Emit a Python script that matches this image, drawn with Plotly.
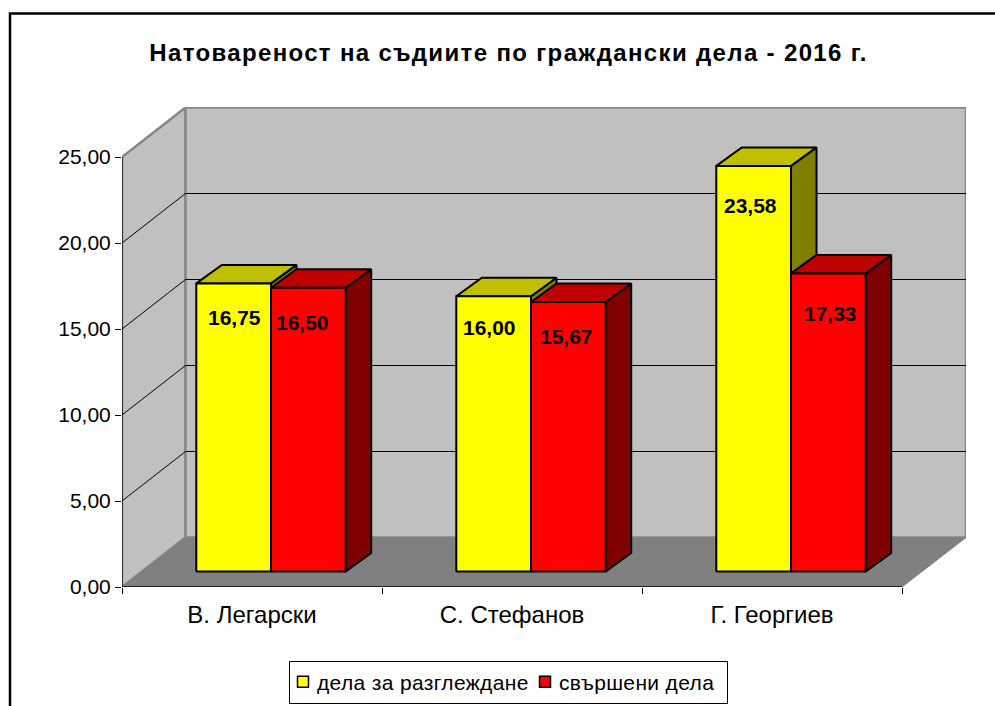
import plotly.graph_objects as go

TITLE = "Натовареност на съдиите по граждански дела - 2016 г."
CATEGORIES = ["В. Легарски", "С. Стефанов", "Г. Георгиев"]
SERIES_NAMES = ["дела за разглеждане", "свършени дела"]
SERIES_A = [16.75, 16.00, 23.58]
SERIES_B = [16.50, 15.67, 17.33]
Y_TICKS = [0, 5, 10, 15, 20, 25]
Y_LABELS = ["0,00", "5,00", "10,00", "15,00", "20,00", "25,00"]
LABELS_A = ["16,75", "16,00", "23,58"]
LABELS_B = ["16,50", "15,67", "17,33"]

# ---- styling / projection constants (not data) ----
W, H = 995, 706
L, R, T, B = 122, 966, 107, 587
FONT = "Liberation Sans"
FRONT_COL = ["#FFFF00", "#FF0000"]
TOP_COL = ["#C0C000", "#C00000"]
SIDE_COL = ["#808000", "#800000"]
WALL = "#C0C0C0"
FLOOR = "#808080"
EDGE = "#868686"
X_PX = 260.0          # px per category
Y_PX = 17.2           # px per value unit
WALL_DX, WALL_DY = 63.5 / X_PX, 49.5 / Y_PX
BAR_W = 74.7 / X_PX
BAR_SHIFT = 19.0 / X_PX
BAR_BASE = 15.5 / Y_PX
DEPTH_DX, DEPTH_DY = 25.5 / X_PX, 18.5 / Y_PX
X_MAX = (R - L) / X_PX
Y_MAX = (B - T) / Y_PX
LABEL_DX = [[1, -4, -3], [-6, -1.5, 2.5]]
LABEL_DY = [[34, 31, 40], [35, 35, 40]]


def px(x):
    return (x - L) / (R - L)


def py(y):
    return (B - y) / (B - T)


fig = go.Figure()


def poly(xs, ys, fill, line_color, line_w):
    fig.add_trace(go.Scatter(
        x=xs + xs[:1], y=ys + ys[:1], mode="lines", fill="toself", fillcolor=fill,
        line=dict(color=line_color, width=line_w), hoverinfo="skip", showlegend=False,
        cliponaxis=False))


def path(xs, ys, color, width):
    fig.add_trace(go.Scatter(x=xs, y=ys, mode="lines", line=dict(color=color, width=width),
                             hoverinfo="skip", showlegend=False, cliponaxis=False))


n = len(CATEGORIES)
# walls and floor
poly([0, WALL_DX, WALL_DX, 0], [0, WALL_DY, 25 + WALL_DY, 25], WALL, EDGE, 2.5)
poly([WALL_DX, X_MAX, X_MAX, WALL_DX], [WALL_DY, WALL_DY, 25 + WALL_DY, 25 + WALL_DY], WALL, EDGE, 2.5)
poly([0, n, X_MAX, WALL_DX], [0, 0, WALL_DY, WALL_DY], FLOOR, FLOOR, 1)
for v in Y_TICKS[1:-1]:
    path([0, WALL_DX, X_MAX], [v, v + WALL_DY, v + WALL_DY], "#000000", 1)
path([0, 0], [0, 25], "#000000", 1.3)
path([0, n], [0, 0], "#000000", 1.3)

# bars: back to front, left to right
annots = []
for i in range(n):
    for s, vals in enumerate([SERIES_A, SERIES_B]):
        v = vals[i]
        x0 = i + 0.5 + BAR_SHIFT - BAR_W + s * BAR_W
        x1 = x0 + BAR_W
        y0 = BAR_BASE
        y1 = BAR_BASE + v
        poly([x1, x1 + DEPTH_DX, x1 + DEPTH_DX, x1],
             [y0, y0 + DEPTH_DY, y1 + DEPTH_DY, y1], SIDE_COL[s], "#000000", 2)
        poly([x0, x1, x1 + DEPTH_DX, x0 + DEPTH_DX],
             [y1, y1, y1 + DEPTH_DY, y1 + DEPTH_DY], TOP_COL[s], "#000000", 2)
        poly([x0, x1, x1, x0], [y0, y0, y1, y1], FRONT_COL[s], "#000000", 2)
        annots.append(dict(
            x=(x0 + x1) / 2, y=y1, xref="x", yref="y",
            text="<b>" + [LABELS_A, LABELS_B][s][i] + "</b>", showarrow=False,
            xshift=LABEL_DX[s][i], yshift=-LABEL_DY[s][i],
            font=dict(family=FONT, size=21, color="#000000"), xanchor="center", yanchor="middle"))

# legend entries
for s, name in enumerate(SERIES_NAMES):
    fig.add_trace(go.Scatter(
        x=[None], y=[None], mode="markers", name=name,
        marker=dict(symbol="square", size=11, color=FRONT_COL[s], line=dict(color="#000000", width=1.5))))

fig.update_layout(
    width=W, height=H, autosize=False,
    margin=dict(l=L, r=W - R, t=T, b=H - B, pad=0),
    paper_bgcolor="#FFFFFF", plot_bgcolor="rgba(0,0,0,0)",
    font=dict(family=FONT, color="#000000", size=21),
    title=dict(text="<b>" + TITLE + "</b>", x=508.5 / W, xref="container", xanchor="center",
               y=1 - 53 / H, yref="container", yanchor="middle",
               font=dict(family=FONT, size=24, color="#000000")),
    xaxis=dict(range=[0, X_MAX], tickmode="array",
               tickvals=[i + 0.5 for i in range(n)], ticktext=CATEGORIES, ticks="",
               showgrid=False, zeroline=False, showline=False, ticklabelstandoff=11,
               minor=dict(tickmode="array", tickvals=list(range(n + 1)), ticks="outside",
                          ticklen=6, tickcolor="#000000", tickwidth=1, showgrid=False),
               tickfont=dict(family=FONT, size=24), fixedrange=True, automargin=False),
    yaxis=dict(range=[0, Y_MAX], tickmode="array", tickvals=Y_TICKS, ticktext=Y_LABELS,
               ticks="outside", ticklen=6, tickcolor="#000000", tickwidth=1,
               showgrid=False, zeroline=False, showline=False,
               tickfont=dict(family=FONT, size=21), fixedrange=True, automargin=False),
    legend=dict(orientation="h", x=277 / W, y=1 - 682 / H, xanchor="left", yanchor="middle",
                xref="container", yref="container", bgcolor="rgba(0,0,0,0)", borderwidth=0,
                entrywidthmode="pixels", entrywidth=197, font=dict(family=FONT, size=21),
                itemclick=False, itemdoubleclick=False),
    annotations=annots,
    hovermode=False,
    shapes=[
        dict(type="rect", xref="paper", yref="paper", x0=px(10), x1=px(1010), y0=py(13.5), y1=py(730),
             line=dict(color="#000000", width=2.5), fillcolor="rgba(0,0,0,0)", layer="below"),
        dict(type="rect", xref="paper", yref="paper", x0=px(289.5), x1=px(727.5), y0=py(661.5), y1=py(703.5),
             line=dict(color="#000000", width=1), fillcolor="rgba(0,0,0,0)", layer="below"),
    ],
)

fig.write_html("out.html", config=dict(displayModeBar=False),
               post_script="document.body.style.margin='0';"
                           "var s=document.createElement('style');"
                           "s.textContent='.gtitle{letter-spacing:1.35px}"
                           ".legendtext{letter-spacing:0.35px}"
                           ".legendpoints{transform:translateX(6px)}';"
                           "document.head.appendChild(s);")
